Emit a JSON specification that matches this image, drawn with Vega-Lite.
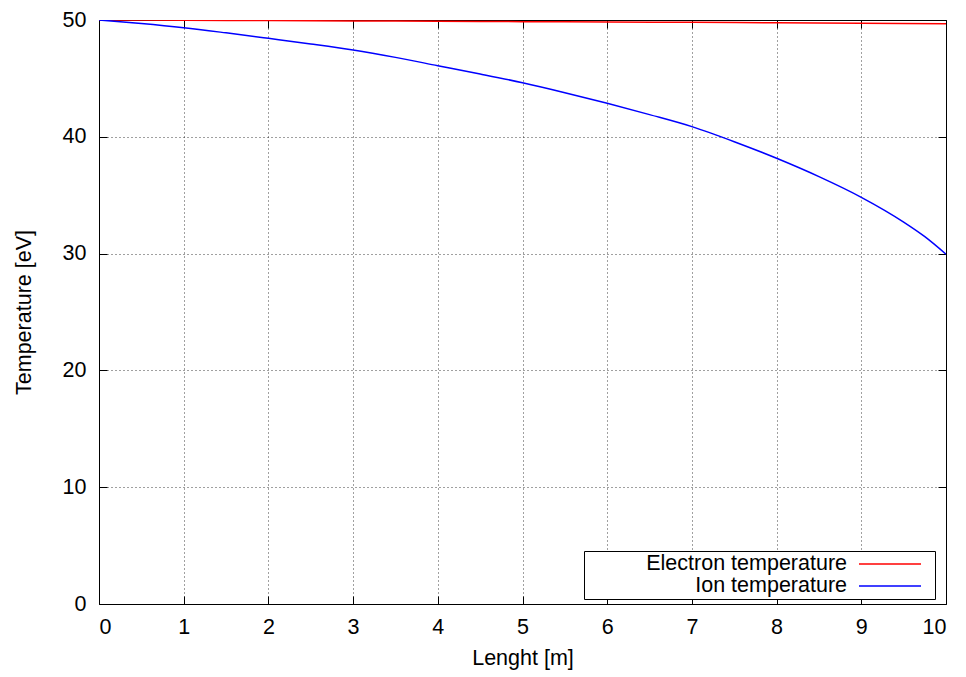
{
  "$schema": "https://vega.github.io/schema/vega-lite/v6.json",
  "width": 847,
  "height": 584,
  "autosize": {"type": "none"},
  "padding": {"left": 99, "top": 20, "right": 20, "bottom": 73},
  "background": "#ffffff",
  "config": {
    "font": "Liberation Sans",
    "view": {"stroke": "#000000", "strokeWidth": 1},
    "axis": {
      "domain": false,
      "labelFont": "Liberation Sans",
      "labelFontSize": 21.5,
      "labelColor": "#000000",
      "titleFont": "Liberation Sans",
      "titleFontSize": 21.5,
      "titleFontWeight": "normal",
      "titleColor": "#000000",
      "tickColor": "#000000",
      "tickSize": -8,
      "tickWidth": 1,
      "gridColor": "#000000",
      "gridOpacity": 0.75,
      "gridDash": [1, 3],
      "gridWidth": 1
    },
    "legend": {
      "labelFont": "Liberation Sans",
      "labelFontSize": 21.5,
      "labelColor": "#000000"
    }
  },
  "data": {
    "values": [
      {"x": 0, "T": 50, "series": "Electron temperature"},
      {"x": 1, "T": 49.98, "series": "Electron temperature"},
      {"x": 2, "T": 49.95, "series": "Electron temperature"},
      {"x": 3, "T": 49.92, "series": "Electron temperature"},
      {"x": 4, "T": 49.89, "series": "Electron temperature"},
      {"x": 5, "T": 49.86, "series": "Electron temperature"},
      {"x": 6, "T": 49.83, "series": "Electron temperature"},
      {"x": 7, "T": 49.8, "series": "Electron temperature"},
      {"x": 8, "T": 49.76, "series": "Electron temperature"},
      {"x": 9, "T": 49.72, "series": "Electron temperature"},
      {"x": 10, "T": 49.68, "series": "Electron temperature"},
      {"x": 0, "T": 50, "series": "Ion temperature"},
      {"x": 0.5, "T": 49.7, "series": "Ion temperature"},
      {"x": 1, "T": 49.34, "series": "Ion temperature"},
      {"x": 1.5, "T": 48.9, "series": "Ion temperature"},
      {"x": 2, "T": 48.43, "series": "Ion temperature"},
      {"x": 2.5, "T": 47.95, "series": "Ion temperature"},
      {"x": 3, "T": 47.43, "series": "Ion temperature"},
      {"x": 3.5, "T": 46.8, "series": "Ion temperature"},
      {"x": 4, "T": 46.09, "series": "Ion temperature"},
      {"x": 4.5, "T": 45.38, "series": "Ion temperature"},
      {"x": 5, "T": 44.63, "series": "Ion temperature"},
      {"x": 5.5, "T": 43.78, "series": "Ion temperature"},
      {"x": 6, "T": 42.87, "series": "Ion temperature"},
      {"x": 6.5, "T": 41.9, "series": "Ion temperature"},
      {"x": 7, "T": 40.87, "series": "Ion temperature"},
      {"x": 7.5, "T": 39.58, "series": "Ion temperature"},
      {"x": 8, "T": 38.16, "series": "Ion temperature"},
      {"x": 8.5, "T": 36.59, "series": "Ion temperature"},
      {"x": 9, "T": 34.82, "series": "Ion temperature"},
      {"x": 9.5, "T": 32.7, "series": "Ion temperature"},
      {"x": 9.75, "T": 31.45, "series": "Ion temperature"},
      {"x": 10, "T": 29.95, "series": "Ion temperature"}
    ]
  },
  "layer": [
    {
      "mark": {"type": "line", "strokeWidth": 1.5, "interpolate": "monotone", "clip": true},
      "encoding": {
        "x": {
          "field": "x",
          "type": "quantitative",
          "scale": {"domain": [0, 10], "nice": false, "zero": false},
          "axis": {
            "orient": "bottom",
            "title": "Lenght [m]",
            "values": [0, 1, 2, 3, 4, 5, 6, 7, 8, 9, 10],
            "format": "d",
            "grid": true,
            "labelPadding": 20,
            "titlePadding": 10
          }
        },
        "y": {
          "field": "T",
          "type": "quantitative",
          "scale": {"domain": [0, 50], "nice": false},
          "axis": {
            "orient": "left",
            "title": "Temperature [eV]",
            "values": [0, 10, 20, 30, 40, 50],
            "format": "d",
            "grid": true,
            "labelPadding": 21,
            "titlePadding": 27
          }
        },
        "color": {
          "field": "series",
          "type": "nominal",
          "scale": {
            "domain": ["Electron temperature", "Ion temperature"],
            "range": ["#ff0000", "#0000ff"]
          },
          "legend": {
            "title": null,
            "orient": "none",
            "legendX": 485,
            "legendY": 531,
            "symbolType": "M-3.1,0H3.1M3.95,0",
            "symbolSize": 400,
            "symbolStrokeWidth": 1.5,
            "symbolOffset": 293,
            "labelAlign": "right",
            "labelOffset": -54,
            "labelLimit": 400,
            "rowPadding": 0,
            "padding": 2,
            "strokeColor": "#000000",
            "fillColor": "#ffffff",
            "cornerRadius": 0
          }
        }
      }
    },
    {
      "mark": {"type": "line", "opacity": 0},
      "encoding": {
        "x": {
          "field": "x",
          "type": "quantitative",
          "axis": {
            "orient": "top",
            "title": null,
            "values": [0, 1, 2, 3, 4, 5, 6, 7, 8, 9, 10],
            "labels": false,
            "grid": false
          }
        },
        "y": {
          "field": "T",
          "type": "quantitative",
          "axis": {
            "orient": "right",
            "title": null,
            "values": [0, 10, 20, 30, 40, 50],
            "labels": false,
            "grid": false
          }
        },
        "detail": {"field": "series"}
      }
    }
  ],
  "resolve": {"axis": {"x": "independent", "y": "independent"}}
}
